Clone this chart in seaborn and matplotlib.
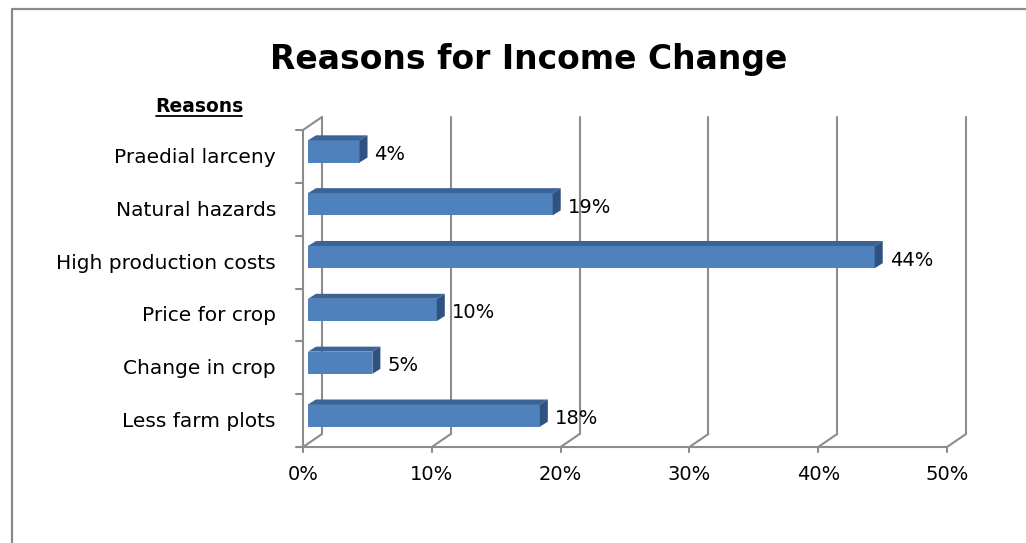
import matplotlib
matplotlib.use("Agg")
import matplotlib.pyplot as plt
from matplotlib.transforms import ScaledTranslation, IdentityTransform
from matplotlib.patches import Polygon
from matplotlib.lines import Line2D
import numpy as np
import pandas as pd
import seaborn as sns

# Data
reasons = ["Praedial larceny", "Natural hazards", "High production costs",
           "Price for crop", "Change in crop", "Less farm plots"]
shares = [0.04, 0.19, 0.44, 0.10, 0.05, 0.18]
tick_values = [0.0, 0.1, 0.2, 0.3, 0.4, 0.5]
tick_labels = ["0%", "10%", "20%", "30%", "40%", "50%"]
value_labels = ["4%", "19%", "44%", "10%", "5%", "18%"]

sns.set_style("white")
plt.rcParams["font.family"] = ["DejaVu Sans"]

W, H = 1026, 543
fig = plt.figure(figsize=(W / 100, H / 100), dpi=100)
ax = fig.add_axes([303 / W, 1 - 447 / H, 644 / W, 317 / H])

df = pd.DataFrame({"reason": reasons, "share": shares})
sns.barplot(data=df, x="share", y="reason", orient="h", color="#4F81BD",
            saturation=1, width=0.42, ax=ax, zorder=4)

ax.set_xlim(0, 0.5)
ax.set_ylim(len(reasons) - 0.5, -0.5)
for s in ax.spines.values():
    s.set_visible(False)
ax.set_xticks([])
ax.set_yticks([])
ax.set_xlabel("")
ax.set_ylabel("")
ax.patch.set_alpha(0)


def shifted(dx, dy):
    return ax.transData + ScaledTranslation(dx / 100, dy / 100, fig.dpi_scale_trans)


def pix_line(xs, ys, z=1):
    ax.add_line(Line2D(xs, ys, color=grid_col, lw=glw, transform=IdentityTransform(),
                       zorder=z, clip_on=False))


grid_col = "#8C8C8C"
glw = 1.5
back = (19, 13)          # depth of the back wall, in pixels
y_top, y_bot = -0.5, len(reasons) - 0.5

# back wall gridlines, floor diagonals and ticks
for xv in tick_values:
    ax.add_line(Line2D([xv, xv], [y_bot, y_top], color=grid_col, lw=glw,
                       transform=shifted(*back), zorder=1, clip_on=False))
    p0 = ax.transData.transform((xv, y_bot))
    pix_line([p0[0], p0[0] + back[0]], [p0[1], p0[1] + back[1]])
    pix_line([p0[0], p0[0]], [p0[1], p0[1] - 5])

# floor front edge and left wall edge
ax.add_line(Line2D([0, 0.5], [y_bot, y_bot], color=grid_col, lw=glw, zorder=1,
                   clip_on=False))
ax.add_line(Line2D([0, 0], [y_bot, y_top], color=grid_col, lw=glw, zorder=1,
                   clip_on=False))
pt = ax.transData.transform((0, y_top))
pix_line([pt[0], pt[0] + back[0]], [pt[1], pt[1] + back[1]])
for yb in np.arange(y_top, y_bot + 0.01, 1.0):
    p = ax.transData.transform((0, yb))
    pix_line([p[0] - 7, p[0]], [p[1], p[1]])

# 3D bar faces
front = (5, 5)
depth = (8, 5)
top_col, side_col = "#3B6396", "#2F5280"
for patch in ax.patches:
    patch.set_transform(shifted(*front))
    patch.set_edgecolor("none")
    x0, y0 = patch.get_x(), patch.get_y()
    w, h = patch.get_width(), patch.get_height()
    tl = ax.transData.transform((x0, y0)) + front
    tr = ax.transData.transform((x0 + w, y0)) + front
    br = ax.transData.transform((x0 + w, y0 + h)) + front
    d = np.array(depth)
    ax.add_patch(Polygon([tl, tr, tr + d, tl + d], closed=True, facecolor=top_col,
                         edgecolor="none", transform=IdentityTransform(), zorder=5,
                         clip_on=False))
    ax.add_patch(Polygon([tr, br, br + d, tr + d], closed=True, facecolor=side_col,
                         edgecolor="none", transform=IdentityTransform(), zorder=5,
                         clip_on=False))

# value labels
for i, (v, lab) in enumerate(zip(shares, value_labels)):
    ax.annotate(lab, (v, i), xytext=(front[0] + depth[0] + 7, 2),
                textcoords="offset pixels", ha="left", va="center",
                fontsize=14, color="black", zorder=6)

# category labels
for i, r in enumerate(reasons):
    ax.annotate(r, (0, i), xytext=(-27, -1), textcoords="offset pixels",
                ha="right", va="center", fontsize=14.5, color="black")

# x tick labels
for xv, lab in zip(tick_values, tick_labels):
    ax.annotate(lab, (xv, y_bot), xytext=(0, -28), textcoords="offset pixels",
                ha="center", va="center", fontsize=14, color="black")

fig.text(529 / W, 1 - 60 / H, "Reasons for Income Change", ha="center", va="center",
         fontsize=23.8, fontweight="bold", color="black")

axis_title = fig.text(199 / W, 1 - 107 / H, "Reasons", ha="center", va="center",
                      fontsize=13.5, fontweight="bold", color="black")
fig.canvas.draw()
bb = axis_title.get_window_extent()
fig.add_artist(Line2D([bb.x0 + 1, bb.x1 - 1], [bb.y0 + 1, bb.y0 + 1], color="black",
                      lw=1.3, transform=IdentityTransform()))

# chart frame
fig.add_artist(Line2D([12, 12], [0, H - 9], color="#8A8A8A", lw=1.6,
                      transform=IdentityTransform()))
fig.add_artist(Line2D([12, W], [H - 9, H - 9], color="#8A8A8A", lw=1.6,
                      transform=IdentityTransform()))

fig.savefig("out.png", dpi=100)
